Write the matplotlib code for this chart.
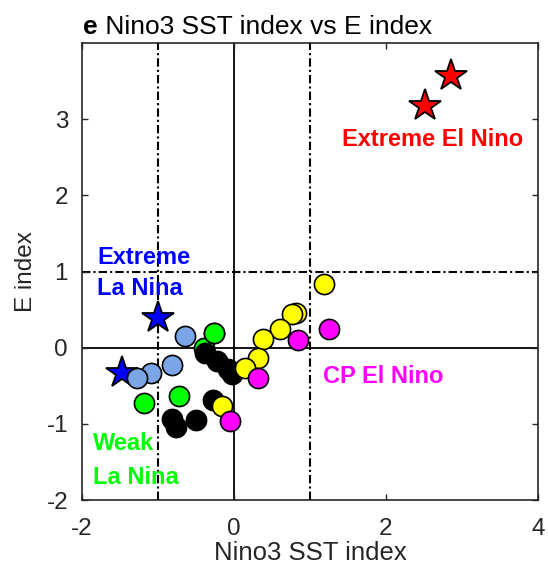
import numpy as np
import matplotlib
matplotlib.use('Agg')
from matplotlib import pyplot as plt

plt.rcParams['font.family'] = ['Liberation Sans', 'DejaVu Sans']
plt.rcParams['axes.unicode_minus'] = False

# data
xtrm_nino_x = [2.86, 2.52]
xtrm_nino_y = [3.57, 3.18]

xtrm_nina_x = [-1.00, -1.47]
xtrm_nina_y = [0.39, -0.33]

mod_nina_x = [-0.64, -0.81, -1.09, -1.27]
mod_nina_y = [0.16, -0.22, -0.33, -0.40]

weak_nina_x = [-0.40, -0.26, -1.19, -0.72]
weak_nina_y = [0.00, 0.20, -0.72, -0.64]

neutral_x = [-0.38, -0.22, -0.08, -0.02, -0.27, -0.81, -0.76, -0.50]
neutral_y = [-0.07, -0.17, -0.28, -0.35, -0.68, -0.94, -1.04, -0.95]

ep_nino_x = [1.19, 0.82, 0.76, 0.61, 0.38, 0.32, 0.14, -0.16]
ep_nino_y = [0.84, 0.46, 0.44, 0.24, 0.12, -0.14, -0.27, -0.76]

cp_nino_x = [1.25, 0.84, 0.32, -0.05]
cp_nino_y = [0.24, 0.10, -0.40, -0.96]

xticks = [-2, 0, 2, 4]
yticks = [-2, -1, 0, 1, 2, 3]

dark = '#262626'

fig = plt.figure(figsize=(5.48, 5.71), dpi=100)
ax = fig.add_axes([0.1496, 0.1243, 0.832, 0.800])

# reference lines
ax.axhline(0, color='k', lw=1.3, zorder=1)
ax.axvline(0, color='k', lw=1.3, zorder=1)
ax.axvline(-1, color='k', lw=1.5, ls=(0, (4, 1.5, 1, 1.5)), zorder=1)
ax.axvline(1, color='k', lw=1.5, ls=(0, (4, 1.5, 1, 1.5)), zorder=1)
ax.axhline(1, color='k', lw=1.5, ls=(0, (4, 1.5, 1, 1.5)), zorder=1)

ms = 14.5
star = 24
ax.plot(xtrm_nino_x, xtrm_nino_y, '*', ms=star, mfc='#ff0000', mec='k', mew=1.3, zorder=3)
ax.plot(xtrm_nina_x, xtrm_nina_y, '*', ms=star, mfc='#0000ff', mec='k', mew=1.3, zorder=3)

groups = [(weak_nina_x, weak_nina_y, '#00ff00'),
          (mod_nina_x, mod_nina_y, '#7ba5e6'),
          (neutral_x, neutral_y, '#000000'),
          (ep_nino_x, ep_nino_y, '#ffff00'),
          (cp_nino_x, cp_nino_y, '#ff00ff')]
z = 4
for gx, gy, col in groups:
    for px, py in zip(gx, gy):
        ax.plot(px, py, 'o', ms=ms, mfc=col, mec='k', mew=1.2, zorder=z)
        z += 1
# green dot that sits on top of the neutral cluster
ax.plot(weak_nina_x[1], weak_nina_y[1], 'o', ms=ms, mfc='#00ff00', mec='k', mew=1.2, zorder=z)

fs = 17
ax.text(2.61, 2.74, 'Extreme El Nino', color='#ff0000', fontsize=fs, fontweight='bold',
        ha='center', va='center')
ax.text(-1.80, 0.98, 'Extreme\nLa Nina', color='#0000ff', fontsize=fs, fontweight='bold',
        ha='left', va='center', linespacing=1.45)
ax.text(-1.85, -1.48, 'Weak\nLa Nina', color='#00ff00', fontsize=fs, fontweight='bold',
        ha='left', va='center', linespacing=1.6)
ax.text(1.17, -0.38, 'CP El Nino', color='#ff00ff', fontsize=fs, fontweight='bold',
        ha='left', va='center')

ax.set_xlim(-2, 4)
ax.set_ylim(-2, 4)
ax.set_xticks(xticks)
ax.set_yticks(yticks)
lfs = 17.5
ax.tick_params(direction='in', top=True, right=True, labelsize=lfs, colors=dark,
               length=4, width=1)
ax.tick_params(axis='x', pad=13)
ax.tick_params(axis='y', pad=10)
for s in ax.spines.values():
    s.set_color(dark)
    s.set_linewidth(1.2)

ax.set_xlabel('Nino3 SST index', fontsize=18.5, color=dark, labelpad=1)
ax.set_ylabel('E index', fontsize=lfs, color=dark, labelpad=7)

t1 = ax.text(0.003, 1.01, 'e', transform=ax.transAxes, fontsize=19, fontweight='bold',
             ha='left', va='bottom')
ax.annotate(' Nino3 SST index vs E index', xy=(1, 0), xycoords=t1, fontsize=19,
            ha='left', va='bottom')

fig.savefig('out.png', dpi=100)
